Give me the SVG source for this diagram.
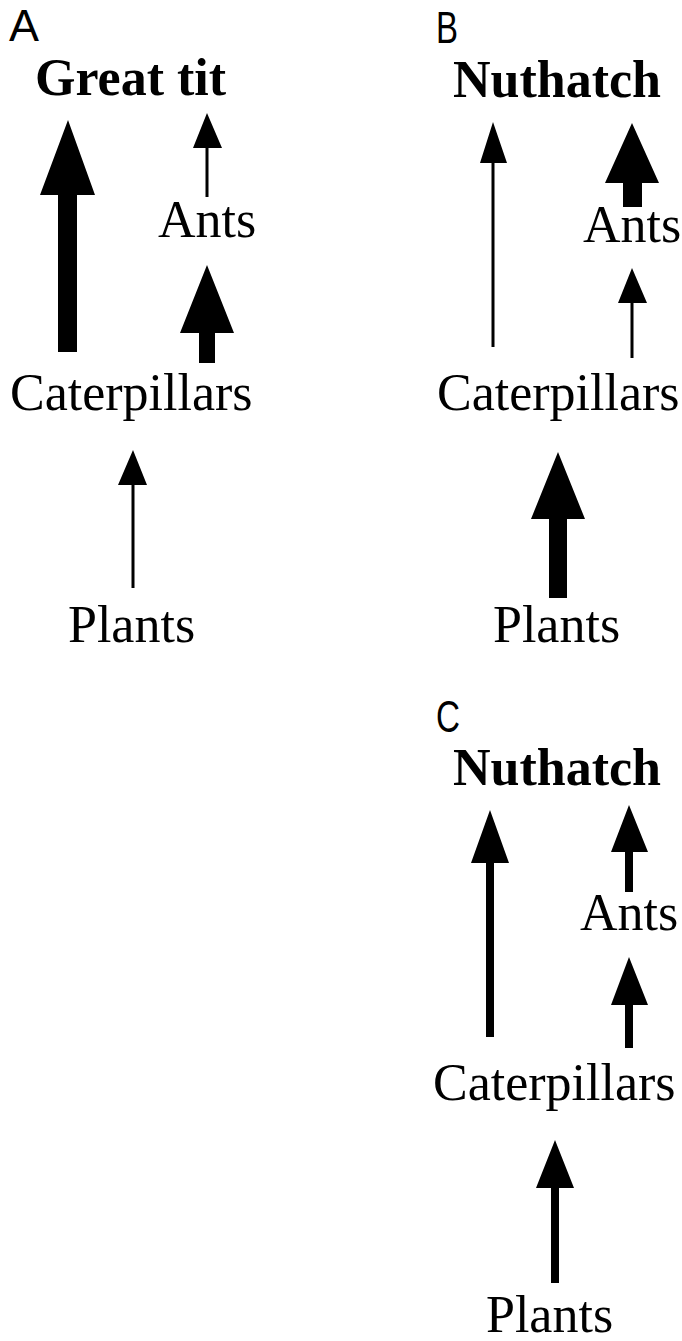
<svg xmlns="http://www.w3.org/2000/svg" width="682" height="1341" viewBox="0 0 682 1341">
<style>
.lbl{font-family:"Liberation Sans",Arial,sans-serif;font-size:45px;fill:#000}
.t{font-family:"Liberation Serif","Times New Roman",serif;font-size:52px;fill:#000}
.b{font-weight:bold}
.arr{fill:#000;stroke:none}
</style>
<rect width="682" height="1341" fill="#fff"/>
<g id="panel-labels">
<text class="lbl" x="9" y="41" textLength="30" lengthAdjust="spacingAndGlyphs">A</text>
<text class="lbl" x="436" y="43" textLength="22" lengthAdjust="spacingAndGlyphs">B</text>
<text class="lbl" x="436" y="732" textLength="24" lengthAdjust="spacingAndGlyphs">C</text>
</g>
<g id="A-greattit"><text class="t b" x="35" y="95">Great tit</text></g>
<g id="A-ants"><text class="t" x="158" y="237">Ants</text></g>
<g id="A-caterpillars"><text class="t" x="10" y="410">Caterpillars</text></g>
<g id="A-plants"><text class="t" x="68" y="642">Plants</text></g>
<g id="B-nuthatch"><text class="t b" x="453" y="97">Nuthatch</text></g>
<g id="B-ants"><text class="t" x="583" y="242">Ants</text></g>
<g id="B-caterpillars"><text class="t" x="437" y="410">Caterpillars</text></g>
<g id="B-plants"><text class="t" x="493" y="642">Plants</text></g>
<g id="C-nuthatch"><text class="t b" x="453" y="785">Nuthatch</text></g>
<g id="C-ants"><text class="t" x="580" y="930">Ants</text></g>
<g id="C-caterpillars"><text class="t" x="433" y="1100">Caterpillars</text></g>
<g id="C-plants"><text class="t" x="486" y="1332">Plants</text></g>
<g id="connectors" class="arr">
<path d="M68,120 L95,195 L77,195 L77,352 L58,352 L58,195 L40,195 Z"/>
<path d="M207,113 L222,148 L208.5,148 L208.5,197 L205.5,197 L205.5,148 L193,148 Z"/>
<path d="M207,265 L234,333 L215,333 L215,363 L199,363 L199,333 L180,333 Z"/>
<path d="M133,450 L147,485 L134.5,485 L134.5,588 L131.5,588 L131.5,485 L118,485 Z"/>
<path d="M493,122 L507,163 L494.5,163 L494.5,347 L491.5,347 L491.5,163 L480,163 Z"/>
<path d="M632,123 L659,183 L642,183 L642,207 L623,207 L623,183 L605,183 Z"/>
<path d="M632,268 L647,303 L633.5,303 L633.5,358 L630.5,358 L630.5,303 L618,303 Z"/>
<path d="M558,452 L585,519 L567,519 L567,598 L549,598 L549,519 L531,519 Z"/>
<path d="M490,810 L509,863 L494,863 L494,1037 L486,1037 L486,863 L471,863 Z"/>
<path d="M629,805 L648,852 L633,852 L633,892 L625,892 L625,852 L611,852 Z"/>
<path d="M629,957 L648,1005 L633,1005 L633,1048 L625,1048 L625,1005 L611,1005 Z"/>
<path d="M555,1140 L574,1188 L559,1188 L559,1283 L551,1283 L551,1188 L536,1188 Z"/>
</g>
</svg>
